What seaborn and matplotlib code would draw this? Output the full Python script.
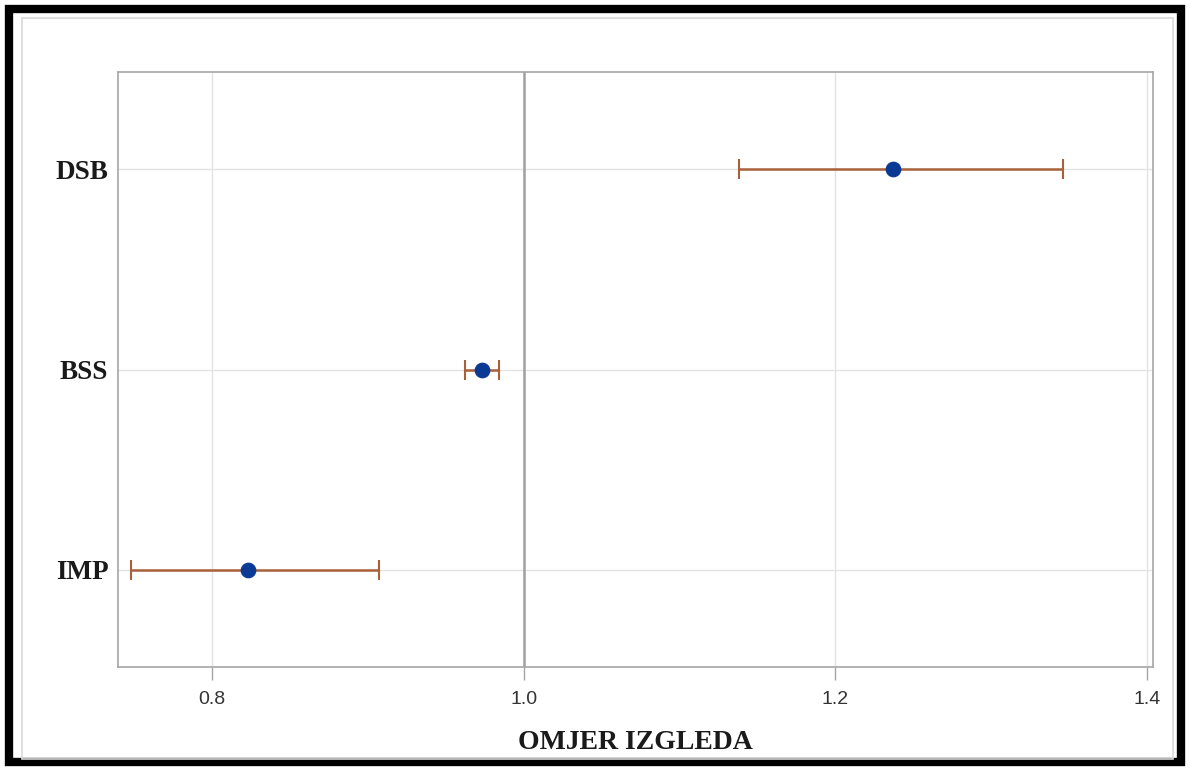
import matplotlib
matplotlib.use("Agg")
import matplotlib.pyplot as plt
import pandas as pd
import seaborn as sns
from matplotlib.patches import Rectangle

# Omjer izgleda s intervalom pouzdanosti
varijable = ["DSB", "BSS", "IMP"]
omjer = [1.237, 0.973, 0.823]
donja = [1.138, 0.962, 0.748]
gornja = [1.346, 0.984, 0.907]
x_ticks = [0.8, 1.0, 1.2, 1.4]

df = pd.DataFrame({"var": varijable, "or": omjer, "lo": donja, "hi": gornja})

sns.set_theme(style="white")
plt.rcParams["font.family"] = ["Liberation Sans", "DejaVu Sans"]

fig = plt.figure(figsize=(11.9, 7.71), dpi=100)
ax = fig.add_axes([118 / 1190, 1 - 667 / 771, 1035 / 1190, 595 / 771])

# okviri slike
fig.patches.append(Rectangle((9 / 1190, 9 / 771), 1172 / 1190, 753 / 771,
                             transform=fig.transFigure, fill=False,
                             edgecolor="black", linewidth=6))
fig.patches.append(Rectangle((22 / 1190, 12 / 771), 1151 / 1190, 741 / 771,
                             transform=fig.transFigure, fill=False,
                             edgecolor="#d9d9d9", linewidth=1.2))

ax.errorbar(df["or"], df["var"],
            xerr=[df["or"] - df["lo"], df["hi"] - df["or"]],
            fmt="none", ecolor="#a9603a", elinewidth=1.8,
            capsize=7, capthick=1.5, zorder=3)
sns.scatterplot(data=df, x="or", y="var", color="#0b3a94", s=110,
                edgecolor="#0b3a94", zorder=4, ax=ax)

ax.axvline(1.0, color="#a0a0a0", linewidth=1.8, zorder=2)

ax.set_xlim(0.7396, 1.4039)
ax.set_ylim(2.485, -0.485)
ax.set_xticks(x_ticks)
ax.set_xticklabels([f"{t:.1f}" for t in x_ticks])
ax.grid(True, color="#e3e3e3", linewidth=1.0)
ax.set_axisbelow(True)

for s in ax.spines.values():
    s.set_color("#a6a6a6")
    s.set_linewidth(1.2)

ax.tick_params(axis="x", bottom=True, length=9, width=1.0, color="#a6a6a6",
               labelsize=14, labelcolor="#333333", pad=8)
ax.tick_params(axis="y", left=False, pad=1)
for lab in ax.get_yticklabels():
    lab.set_fontfamily(["Liberation Serif", "DejaVu Serif"])
    lab.set_fontsize(19.5)
    lab.set_fontweight("bold")
    lab.set_color("#1a1a1a")

ax.set_ylabel("")
ax.set_xlabel("OMJER IZGLEDA", fontfamily=["Liberation Serif", "DejaVu Serif"],
              fontsize=20, fontweight="bold", color="#1a1a1a", labelpad=16)

fig.savefig("out.png", dpi=100)
